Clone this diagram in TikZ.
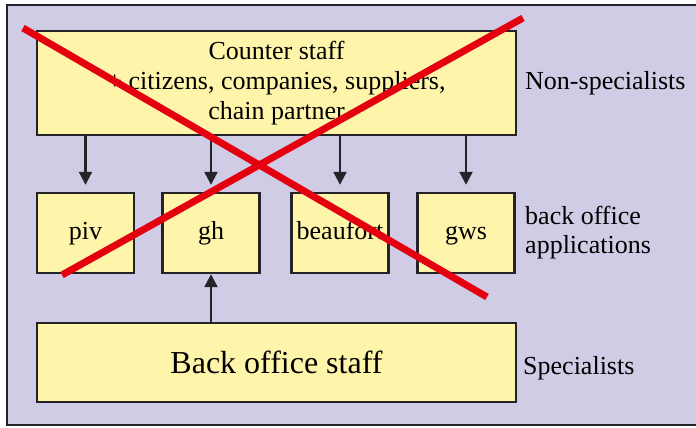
\documentclass[tikz,border=0pt]{standalone}
\usepackage{fontspec}
\setmainfont{LiberationSerif}[Extension=.ttf, UprightFont=*-Regular, BoldFont=*-Bold, ItalicFont=*-Italic]
\usetikzlibrary{arrows.meta,positioning}
\definecolor{panel}{RGB}{208,204,230}
\definecolor{boxfill}{RGB}{255,245,170}
\definecolor{edge}{RGB}{35,35,40}
\definecolor{cross}{RGB}{228,0,14}
\tikzset{
  appbox/.style={draw=edge, fill=boxfill, line width=2.4pt, minimum width=97pt, minimum height=80pt, inner sep=0pt,
    text height=18pt, text depth=5pt, font=\rmfamily\fontsize{26}{30}\selectfont},
  widebox/.style={draw=edge, fill=boxfill, line width=2.4pt, minimum width=479pt, inner sep=0pt, align=center},
  sidelabel/.style={anchor=west, inner sep=0pt, align=left, font=\rmfamily\fontsize{26}{29}\selectfont},
  flow/.style={draw=edge, line width=2.2pt, -{Triangle[length=13pt,width=13pt]}},
  strike/.style={draw=cross, line width=7pt}
}
\begin{document}
\begin{tikzpicture}[x=1pt,y=-1pt]
\useasboundingbox (0,0) rectangle (696,428);
\begin{scope}
  \clip (0,0) rectangle (696,428);
  \draw[fill=panel, draw=edge, line width=2.6pt] (7,5) rectangle (720,425);
\end{scope}

% upper tier
\node[widebox, minimum height=104pt, font=\rmfamily\fontsize{26}{30}\selectfont] (counter) at (276.5,83)
  {Counter staff\\+ citizens, companies, suppliers,\\chain partner};

% application tier
\node[appbox] (piv) at (85.5,233) {piv};
\node[appbox] (gh) at (211,233) {gh};
\node[appbox] (beaufort) at (340,233) {beaufort};
\node[appbox] (gws) at (466,233) {gws};

% lower tier
\node[widebox, minimum height=79pt, font=\rmfamily\fontsize{32}{36}\selectfont] (staff) at (276.5,362.5) {Back office staff};

% side labels
\node[sidelabel] (nonspec) at (525,83) {Non-specialists};
\node[sidelabel] (apps) at (525,233) {back office\\applications};
\node[sidelabel] (spec) at (523,368) {Specialists};

% flows
\foreach \b in {piv,gh,beaufort,gws}
  \draw[flow, shorten >=7pt] (counter.south -| \b.north) -- (\b.north);
\draw[flow] (staff.north -| gh.south) -- (gh.south);

% cross-out
\coordinate (xa1) at (23,28);
\coordinate (xa2) at (487,297);
\coordinate (xb1) at (62,275);
\coordinate (xb2) at (523,18);
\draw[strike] (xa1) -- (xa2);
\draw[strike] (xb1) -- (xb2);
\end{tikzpicture}
\end{document}
